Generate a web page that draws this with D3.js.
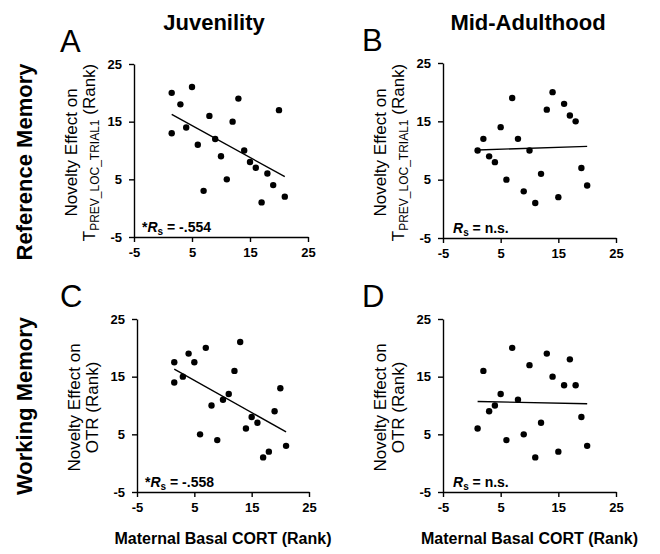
<!DOCTYPE html>
<html>
<head>
<meta charset="utf-8">
<script src="https://cdn.jsdelivr.net/npm/d3@7"></script>
<style>
  body { margin: 0; background: #fff; }
  svg { font-family: "Liberation Sans", Arial, sans-serif; }
</style>
</head>
<body>
<svg id="fig" width="660" height="554"></svg>
<script>
// Ranks (x = maternal basal CORT rank, y = novelty effect rank)
const cortJuv = [1.5, 1.5, 3, 4, 5, 6, 7, 8, 9, 10, 11, 12, 13, 14, 15, 16, 17, 18, 19, 20, 21];
const refJuv  = [20, 13, 18, 14, 21, 11, 3, 16, 12, 9, 5, 15, 19, 10, 8, 7, 1, 6, 4, 17, 2];
const workJuv = [17.5, 14, 15, 19, 17.5, 5, 20, 10, 4, 11, 12, 16, 21, 6, 8, 7, 1, 2, 9, 13, 3];

const cortAdult = [1, 2, 3, 4, 5, 6, 7, 8, 9, 10, 11, 12, 13, 14, 15, 16, 17, 18, 19, 20];
const refAdult  = [10, 12, 9, 8, 14, 5, 19, 12, 3, 10, 1, 6, 17, 20, 2, 18, 16, 15, 7, 4];
const workAdult = [6, 16, 9, 10, 12, 4, 20, 11, 5, 17, 1, 7, 19, 15, 2, 13.5, 18, 13.5, 8, 3];

const axisTicks = [-5, 5, 15, 25];
const columnTitles = ["Juvenility", "Mid-Adulthood"];
const rowTitles = ["Reference Memory", "Working Memory"];
const statTexts = ["-.554", "n.s.", "-.558", "n.s."];

const svg = d3.select("#fig");

// panel frames (pixel positions of the axis ends)
const panels = [
    {letter: "A", xs: cortJuv, ys: refJuv, stat: statTexts[0], star: true, row: 0,
     x0: 134, x1: 308, yb: 237, yt: 64},
    {letter: "B", xs: cortAdult, ys: refAdult, stat: statTexts[1], star: false, row: 0,
     x0: 443, x1: 616, yb: 238, yt: 63},
    {letter: "C", xs: cortJuv, ys: workJuv, stat: statTexts[2], star: true, row: 1,
     x0: 137, x1: 309, yb: 492, yt: 319},
    {letter: "D", xs: cortAdult, ys: workAdult, stat: statTexts[3], star: false, row: 1,
     x0: 443, x1: 616, yb: 492, yt: 319}
];

function linFit(xs, ys) {
    const mx = d3.mean(xs), my = d3.mean(ys);
    let sxy = 0, sxx = 0;
    xs.forEach((x, i) => { sxy += (x - mx) * (ys[i] - my); sxx += (x - mx) ** 2; });
    const b = sxy / sxx;
    return x => my + b * (x - mx);
}

panels.forEach(p => {
    const x = d3.scaleLinear().domain([-5, 25]).range([p.x0, p.x1]);
    const y = d3.scaleLinear().domain([-5, 25]).range([p.yb, p.yt]);
    const g = svg.append("g");

    // axes
    const xAxis = d3.axisBottom(x).tickValues(axisTicks).tickSize(5).tickSizeOuter(0)
        .tickPadding(6).tickFormat(d => String(d));
    const yAxis = d3.axisLeft(y).tickValues(axisTicks).tickSize(5).tickSizeOuter(0)
        .tickPadding(7).tickFormat(d => String(d));

    g.append("g").attr("transform", `translate(0,${p.yb})`).call(xAxis);
    g.append("g").attr("transform", `translate(${p.x0},0)`).call(yAxis);
    g.selectAll(".domain, .tick line").attr("stroke", "#000").attr("stroke-width", 1.4);
    g.selectAll(".tick text").attr("fill", "#000")
        .style("font-size", "13px").style("font-weight", "bold")
        .style("font-family", '"Liberation Sans", Arial, sans-serif');

    // regression line
    const f = linFit(p.xs, p.ys);
    const xmin = d3.min(p.xs), xmax = d3.max(p.xs);
    g.append("line")
        .attr("x1", x(xmin)).attr("y1", y(f(xmin)))
        .attr("x2", x(xmax)).attr("y2", y(f(xmax)))
        .attr("stroke", "#000").attr("stroke-width", 1.4);

    // points
    g.selectAll("circle").data(p.xs.map((v, i) => [v, p.ys[i]])).join("circle")
        .attr("cx", d => x(d[0])).attr("cy", d => y(d[1])).attr("r", 3.2)
        .attr("fill", "#000");

    // correlation text
    const t = g.append("text")
        .attr("x", p.x0 + (p.star ? 8 : 10)).attr("y", p.yb - 5)
        .style("font-size", "14px").style("font-weight", "bold");
    if (p.star) t.append("tspan").text("*");
    t.append("tspan").style("font-style", "italic").text("R");
    t.append("tspan").attr("dy", 3).style("font-size", "10px").text("s");
    t.append("tspan").attr("dy", -3).text(" = " + p.stat);

    // panel letter
    svg.append("text")
        .attr("x", p.letter === "A" || p.letter === "C" ? 60 : 362)
        .attr("y", p.yt - 12)
        .style("font-size", "31px").text(p.letter);

    // y axis label
    const cy = (p.yb + p.yt) / 2 + 2;
    const l1x = p.x0 - 57, l2x = p.x0 - 39;
    svg.append("text")
        .attr("transform", `translate(${l1x},${cy}) rotate(-90)`)
        .attr("text-anchor", "middle").style("font-size", "17px")
        .text("Novelty Effect on");
    const l2 = svg.append("text")
        .attr("transform", `translate(${l2x},${cy}) rotate(-90)`)
        .attr("text-anchor", "middle").style("font-size", "17px");
    if (p.row === 0) {
        l2.append("tspan").text("T");
        l2.append("tspan").attr("dy", 4).style("font-size", "12px").text("PREV_LOC_TRIAL1");
        l2.append("tspan").attr("dy", -4).text(" (Rank)");
    } else {
        l2.text("OTR (Rank)");
    }

    // x axis label on the bottom row
    if (p.row === 1) {
        svg.append("text")
            .attr("x", (p.x0 + p.x1) / 2).attr("y", 544)
            .attr("text-anchor", "middle")
            .style("font-size", "16px").style("font-weight", "bold")
            .text("Maternal Basal CORT (Rank)");
    }
});

// column titles
svg.selectAll(".coltitle").data(columnTitles).join("text")
    .attr("class", "coltitle")
    .attr("x", (d, i) => [214, 528][i]).attr("y", 30)
    .attr("text-anchor", "middle")
    .style("font-size", "22px").style("font-weight", "bold")
    .text(d => d);

// row titles
svg.selectAll(".rowtitle").data(rowTitles).join("text")
    .attr("class", "rowtitle")
    .attr("transform", (d, i) => `translate(32,${[162, 406][i]}) rotate(-90)`)
    .attr("text-anchor", "middle")
    .style("font-size", "22px").style("font-weight", "bold")
    .text(d => d);
</script>
</body>
</html>
